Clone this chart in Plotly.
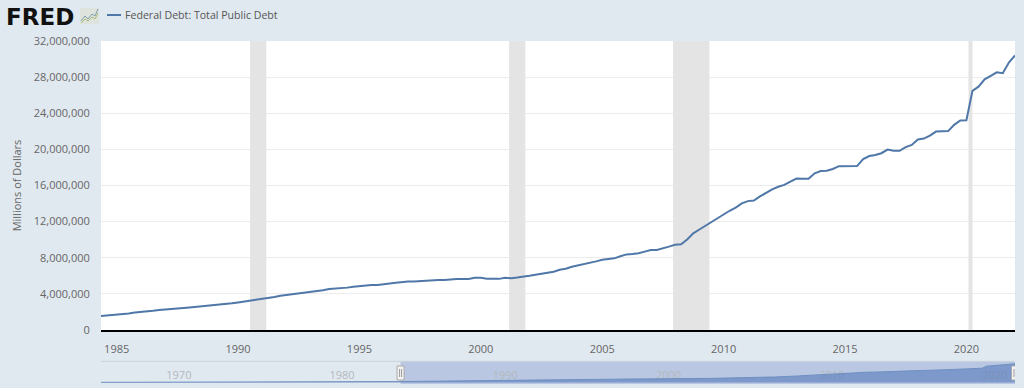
import pandas as pd
import plotly.graph_objects as go

# Millions of dollars, quarterly from 1984 Q1 to 2022 Q1
debt_q = [
 1463000,1512000,1572000,1663000,
 1710000,1774000,1823000,1945000, 1986000,2059000,2125000,2214000,
 2250000,2310000,2350000,2431000, 2487000,2547000,2602000,2684000,
 2740000,2799000,2857000,2953000, 3052000,3143000,3233000,3365000,
 3445000,3538000,3665000,3801000, 3881000,3984000,4065000,4177000,
 4230000,4352000,4411000,4536000, 4576000,4645000,4692000,4801000,
 4864000,4951000,4974000,4989000, 5118000,5161000,5225000,5324000,
 5381000,5376000,5413000,5503000, 5543000,5548000,5526000,5614000,
 5652000,5639000,5656000,5776000, 5773000,5686000,5674000,5662000,
 5774000,5727000,5807000,5943000, 6006000,6126000,6228000,6406000,
 6460000,6670000,6783000,6998000, 7131000,7274000,7379000,7596000,
 7777000,7836000,7933000,8170000, 8371000,8420000,8507000,8680000,
 8849000,8867000,9008000,9230000, 9437000,9492000,10025000,10700000,
 11127000,11545000,11910000,12311000, 12773000,13202000,13562000,14025000,
 14270000,14343000,14790000,15223000, 15582000,15856000,16066000,16433000,
 16772000,16738000,16738000,17352000, 17602000,17632000,17824000,18141000,
 18152000,18152000,18151000,18922000, 19264000,19382000,19573000,19977000,
 19847000,19845000,20245000,20493000, 21090000,21195000,21516000,21974000,
 22028000,22023000,22719000,23201000, 23224000,26477000,26945000,27748000,
 28133000,28529000,28429000,29618000, 30401000,
]
quarter_dates = list(pd.date_range("1984-01-01", periods=len(debt_q), freq="QS"))

# Earlier history only visible in the navigator strip
early_dates = [f"{y}-01-01" for y in range(1966, 1984)]
early_debt = [320000,330000,350000,360000,372000,390000,425000,460000,475000,
              520000,620000,700000,780000,830000,860000,940000,1040000,1250000]

recessions = [("1990-07-01","1991-03-01"),("2001-03-01","2001-11-01"),
              ("2007-12-01","2009-06-01"),("2020-02-01","2020-04-01")]
view_start = "1984-05-10"
view_end = "2022-01-01"
y_max = 32000000
nav_y_range = [-2400000, 34400000]
y_ticks = list(range(0, y_max + 1, 4000000))
x_tick_years = list(range(1985, 2021, 5))
nav_years = [1970, 1980, 1990, 2000, 2010, 2020]
series_name = "Federal Debt: Total Public Debt"
y_title = "Millions of Dollars"

W, H = 1024, 388
L, R, T, B = 101, 1015, 41, 384
BG = "#e1e9f0"
LINE = "#4f77a8"

def px(x): return (x - L) / (R - L)
def py(y): return (B - y) / (B - T)
def path(pts, close=False):
    s = "M" + " L".join(f"{px(a):.5f},{py(b):.5f}" for a, b in pts)
    return s + (" Z" if close else "")

fig = go.Figure()

fig.add_trace(go.Scatter(x=quarter_dates, y=debt_q, mode="lines", name=series_name,
                         line=dict(color=LINE, width=2), xaxis="x", yaxis="y",
                         showlegend=False))

# navigator labels sit under the navigator fill
fig.add_trace(go.Scatter(x=[f"{y}-01-01" for y in nav_years], y=[10500000]*len(nav_years),
                         mode="text", text=[str(y) for y in nav_years],
                         textposition="middle right",
                         textfont=dict(family="Open Sans", size=11, color="#b4b8bd"),
                         xaxis="x2", yaxis="y2", showlegend=False, hoverinfo="skip"))
fig.add_trace(go.Scatter(x=early_dates + quarter_dates, y=early_debt + debt_q, mode="lines",
                         line=dict(color="#6d8fc0", width=1), fill="tozeroy",
                         fillcolor="rgba(70,110,180,0.52)",
                         xaxis="x2", yaxis="y2", showlegend=False, hoverinfo="skip"))

shapes = [dict(type="rect", xref="paper", yref="paper", x0=0, x1=1, y0=py(330), y1=1,
               fillcolor="#ffffff", line_width=0, layer="below")]
for a, b in recessions:
    shapes.append(dict(type="rect", xref="x", yref="y", x0=a, x1=b, y0=0, y1=y_max,
                       fillcolor="#e4e4e4", line_width=0, layer="between"))
# navigator selection
shapes.append(dict(type="rect", xref="x2", yref="y2", x0=view_start, x1=view_end,
                   y0=nav_y_range[0], y1=nav_y_range[1], fillcolor="#b9c7e2", line_width=0, layer="below"))
# navigator top rule
shapes.append(dict(type="line", xref="paper", yref="paper", x0=0, x1=1, y0=py(361.3), y1=py(361.3),
                   line=dict(color="#c9d2dc", width=1)))
# navigator handles
for d in (view_start, view_end):
    shapes.append(dict(type="rect", xref="x2", yref="paper", xsizemode="pixel", xanchor=d,
                       x0=-3.5, x1=3.5, y0=py(380), y1=py(366), fillcolor="#f4f4f4",
                       line=dict(color="#a9a9a9", width=1), layer="above"))
    for dx in (-1, 1):
        shapes.append(dict(type="line", xref="x2", yref="paper", xsizemode="pixel", xanchor=d,
                           x0=dx, x1=dx, y0=py(377), y1=py(369),
                           line=dict(color="#9a9a9a", width=1), layer="above"))
# legend key
shapes.append(dict(type="line", xref="paper", yref="paper", x0=px(107), x1=px(121),
                   y0=py(15), y1=py(15), line=dict(color=LINE, width=2)))
# FRED icon
shapes.append(dict(type="rect", xref="paper", yref="paper", x0=px(80), x1=px(99), y0=py(24), y1=py(8),
                   fillcolor="#dfe3de", line_width=0))
shapes.append(dict(type="path", xref="paper", yref="paper",
                   path=path([(81,21),(85,16),(88,19),(92,14),(95,16),(98,9)]),
                   line=dict(color="#7f9fa8", width=1)))
shapes.append(dict(type="path", xref="paper", yref="paper",
                   path=path([(81,23),(85,19),(88,21),(92,17),(95,19),(98,13)]),
                   line=dict(color="#a9bd78", width=1)))

annotations = [
    dict(xref="paper", yref="paper", x=px(4), y=py(16.5), xanchor="left", yanchor="middle",
         text="<b>FRED</b>", showarrow=False,
         font=dict(family="DejaVu Sans", size=23, color="#111111")),
    dict(xref="paper", yref="paper", x=px(123), y=py(15), xanchor="left", yanchor="middle",
         text=series_name, showarrow=False,
         font=dict(family="Open Sans", size=10.6, color="#555555")),
]

fig.update_layout(
    width=W, height=H, autosize=False,
    margin=dict(l=L, r=W - R, t=T, b=H - B, pad=0, autoexpand=False),
    paper_bgcolor=BG, plot_bgcolor="rgba(0,0,0,0)",
    font=dict(family="Open Sans", size=11, color="#666666"),
    shapes=shapes, annotations=annotations,
    xaxis=dict(domain=[0, 1], range=[view_start, view_end], type="date",
               tickvals=[f"{y}-01-01" for y in x_tick_years],
               ticktext=[str(y) for y in x_tick_years],
               showgrid=False, zeroline=False, showline=True, linecolor="#000000", linewidth=2,
               ticks="outside", ticklen=8, tickcolor="rgba(0,0,0,0)", anchor="y", automargin=False,
               tickfont=dict(size=11, color="#666666")),
    yaxis=dict(domain=[py(330), 1], range=[0, y_max], tickvals=y_ticks,
               tickformat=",", showgrid=True, gridcolor="#ececec", gridwidth=1, zeroline=False,
               showline=False, ticks="outside", ticklen=8, tickcolor="rgba(0,0,0,0)",
               automargin=False,
               title=dict(text=y_title, standoff=9, font=dict(size=11, color="#666666")),
               tickfont=dict(size=11, color="#666666"), layer="below traces"),
    xaxis2=dict(domain=[0, 1], range=["1966-01-01", "2022-01-01"], type="date",
                showticklabels=False, showgrid=False, zeroline=False, showline=False,
                ticks="", anchor="y2", automargin=False),
    yaxis2=dict(domain=[0, py(361.3)], range=nav_y_range, showticklabels=False,
                showgrid=False, zeroline=False, showline=False, ticks="", anchor="x2",
                automargin=False),
    hovermode=False,
)

fig.write_html("out.html", config=dict(displayModeBar=False),
               post_script="document.body.style.margin='0';document.body.style.overflow='hidden';")
